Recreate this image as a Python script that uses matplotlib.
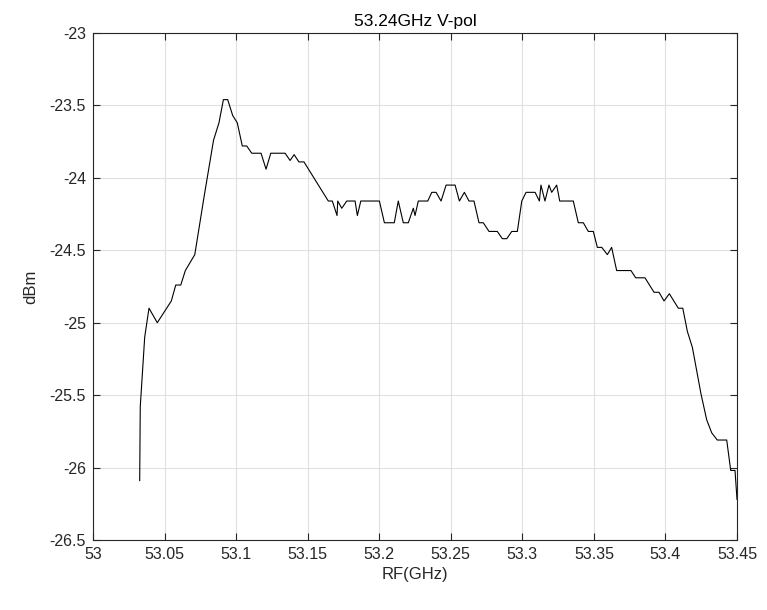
import matplotlib
matplotlib.use("Agg")
import matplotlib.pyplot as plt
from matplotlib.ticker import FuncFormatter

plt.rcParams["font.family"] = ["Liberation Sans", "DejaVu Sans"]
plt.rcParams["axes.unicode_minus"] = False

# measured sweep, RF frequency (GHz) vs received power (dBm)
freq_ghz = [
    53.0326, 53.0330, 53.0361, 53.0391, 53.0449, 53.0547, 53.0578, 53.0613,
    53.0645, 53.0711, 53.0776, 53.0842, 53.0880, 53.0911, 53.0941, 53.0976,
    53.1008, 53.1043, 53.1074, 53.1109, 53.1174, 53.1209, 53.1242, 53.1342,
    53.1377, 53.1405, 53.1439, 53.1474, 53.1644, 53.1672, 53.1705, 53.1710,
    53.1738, 53.1773, 53.1831, 53.1847, 53.1871, 53.2001, 53.2036, 53.2105,
    53.2133, 53.2168, 53.2203, 53.2238, 53.2250, 53.2273, 53.2339, 53.2367,
    53.2397, 53.2432, 53.2467, 53.2530, 53.2560, 53.2595, 53.2627, 53.2662,
    53.2697, 53.2727, 53.2767, 53.2825, 53.2860, 53.2891, 53.2926, 53.2965,
    53.2996, 53.3026, 53.3089, 53.3119, 53.3130, 53.3158, 53.3186, 53.3205,
    53.3240, 53.3261, 53.3356, 53.3391, 53.3426, 53.3461, 53.3496, 53.3524,
    53.3555, 53.3594, 53.3624, 53.3659, 53.3759, 53.3792, 53.3857, 53.3920,
    53.3955, 53.3990, 53.4027, 53.4090, 53.4121, 53.4153, 53.4188, 53.4248,
    53.4288, 53.4323, 53.4362, 53.4428, 53.4456, 53.4486, 53.4500,
]
power_dbm = [
    -26.09, -25.58, -25.10, -24.90, -25.00, -24.85, -24.74, -24.74,
    -24.64, -24.53, -24.13, -23.74, -23.62, -23.46, -23.46, -23.57,
    -23.62, -23.78, -23.78, -23.83, -23.83, -23.94, -23.83, -23.83,
    -23.88, -23.84, -23.89, -23.89, -24.16, -24.16, -24.26, -24.16,
    -24.21, -24.16, -24.16, -24.26, -24.16, -24.16, -24.31, -24.31,
    -24.16, -24.31, -24.31, -24.21, -24.26, -24.16, -24.16, -24.10,
    -24.10, -24.16, -24.05, -24.05, -24.16, -24.10, -24.16, -24.16,
    -24.31, -24.31, -24.37, -24.37, -24.42, -24.42, -24.37, -24.37,
    -24.16, -24.10, -24.10, -24.16, -24.05, -24.16, -24.05, -24.10,
    -24.05, -24.16, -24.16, -24.31, -24.31, -24.37, -24.37, -24.48,
    -24.48, -24.53, -24.48, -24.64, -24.64, -24.69, -24.69, -24.79,
    -24.79, -24.85, -24.80, -24.90, -24.90, -25.06, -25.17, -25.49,
    -25.67, -25.76, -25.81, -25.81, -26.02, -26.02, -26.22,
]

x_ticks = [53.0, 53.05, 53.1, 53.15, 53.2, 53.25, 53.3, 53.35, 53.4, 53.45]
y_ticks = [-26.5, -26, -25.5, -25, -24.5, -24, -23.5, -23]

fig = plt.figure(figsize=(7.67, 6.10), dpi=100)
ax = fig.add_axes([0.1213, 0.1148, 0.8396, 0.8311])

ax.plot(freq_ghz, power_dbm, color="black", linewidth=0.8)

ax.set_xlim(53.0, 53.45)
ax.set_ylim(-26.5, -23)
ax.set_xticks(x_ticks)
ax.set_yticks(y_ticks)
ax.xaxis.set_major_formatter(FuncFormatter(lambda v, p: f"{v:g}"))
ax.yaxis.set_major_formatter(FuncFormatter(lambda v, p: f"{v:g}"))

ax.grid(True, color="#e0e0e0", linewidth=0.8)
ax.set_axisbelow(True)
for side in ax.spines.values():
    side.set_color("#262626")
    side.set_linewidth(0.8)
ax.tick_params(direction="in", top=True, right=True, length=5,
               width=0.8, color="#262626", labelsize=11.5,
               labelcolor="#262626", pad=5)

ax.set_xlabel("RF(GHz)", fontsize=12, color="#262626", labelpad=4)
ax.set_ylabel("dBm", fontsize=12, color="#262626", labelpad=8)
ax.set_title("53.24GHz V-pol", fontsize=12.5, color="black", pad=5)

fig.savefig("out.png", dpi=100)
